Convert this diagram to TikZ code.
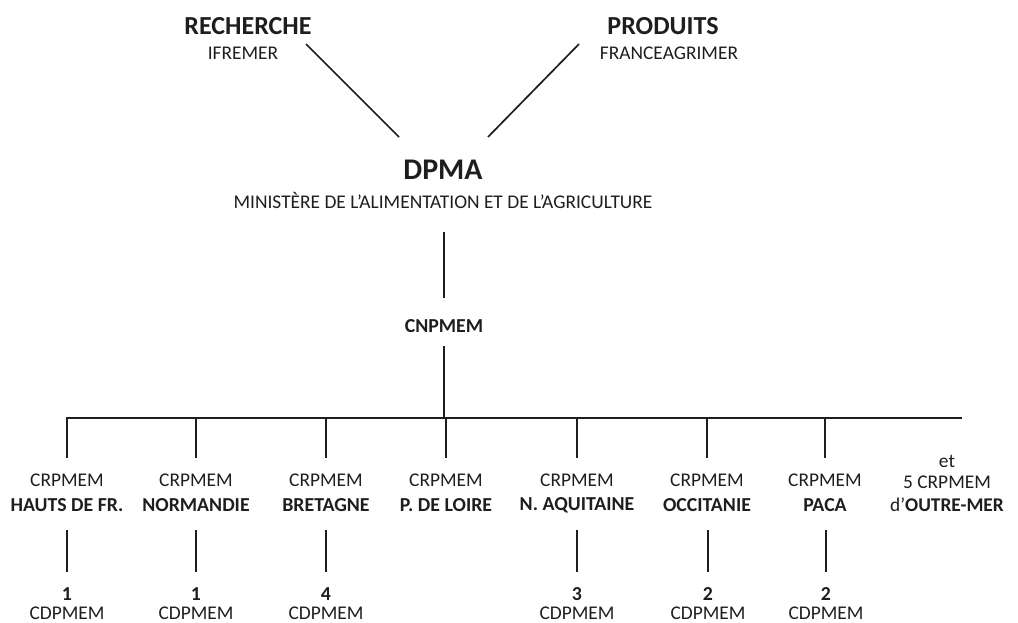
\documentclass[tikz,border=0pt]{standalone}
\usepackage{fontspec}
\setmainfont{Carlito}
\definecolor{ink}{RGB}{30,30,30}
\tikzset{
  txt/.style={inner sep=0pt, anchor=center, text=ink, font=\fontsize{19.4}{21}\selectfont},
  btxt/.style={txt, font=\fontsize{19.8}{21}\selectfont\bfseries},
  big/.style={txt, font=\fontsize{26}{28}\selectfont\bfseries},
  huge/.style={txt, font=\fontsize{30}{32}\selectfont\bfseries},
  conn/.style={draw=ink, line width=1.7pt}
}
\begin{document}
\begin{tikzpicture}[x=1pt,y=-1pt]
\useasboundingbox (0,0) rectangle (1018,623);
% top
\node[big] (rech) at (248,26) {RECHERCHE};
\node[txt] (ifr) at (243,53) {IFREMER};
\node[big] (prod) at (663,26) {PRODUITS};
\node[txt] (fag) at (669,53) {FRANCEAGRIMER};
\node[huge] (dpma) at (443,170) {DPMA};
\node[txt] (min) at (443,200) {MINISTÈRE DE L’ALIMENTATION ET DE L’AGRICULTURE};
\node[btxt] (cnp) at (444,326) {CNPMEM};
\coordinate (rA) at (306,44); \coordinate (rB) at (399,137);
\coordinate (pA) at (579,44); \coordinate (pB) at (488,137);
\draw[conn] (rA) -- (rB);
\draw[conn] (pA) -- (pB);
\coordinate (mA) at (444,232); \coordinate (mB) at (444,298);
\draw[conn] (mA) -- (mB);
\coordinate (cA) at (444,346); \coordinate (bus) at (444,418);
\draw[conn] (cA) -- (bus);
\coordinate (busL) at (66,418); \coordinate (busR) at (962,418);
\draw[conn] (busL) -- (busR);
% regions
\foreach \nm/\x/\reg in {hdf/67/HAUTS DE FR., nor/196/NORMANDIE, bre/326/BRETAGNE, pdl/446/P. DE LOIRE, naq/577/N. AQUITAINE, occ/707/OCCITANIE, pac/825/PACA}{
  \node[txt] (\nm c) at (\x,480) {CRPMEM};
  \node[btxt] (\nm r) at (\x,505) {\reg};
  \coordinate (\nm t) at (\x,418);
  \coordinate (\nm d) at (\x,458);
  \draw[conn] (\nm t) -- (\nm d);
}
\node[txt] (et) at (947,461) {et};
\node[txt] (om1) at (947,482) {5 CRPMEM};
\node[txt] (om2) at (947,505) {d’\textbf{OUTRE-MER}};
% départements
\foreach \nm/\x/\n in {hdf/67/1, nor/196/1, bre/326/4, naq/577/3, occ/708/2, pac/826/2}{
  \coordinate (\nm u) at (\x,530);
  \coordinate (\nm v) at (\x,572);
  \draw[conn] (\nm u) -- (\nm v);
  \node[btxt] (\nm n) at (\x,594) {\n};
  \node[txt] (\nm p) at (\x,613) {CDPMEM};
}
\end{tikzpicture}
\end{document}
